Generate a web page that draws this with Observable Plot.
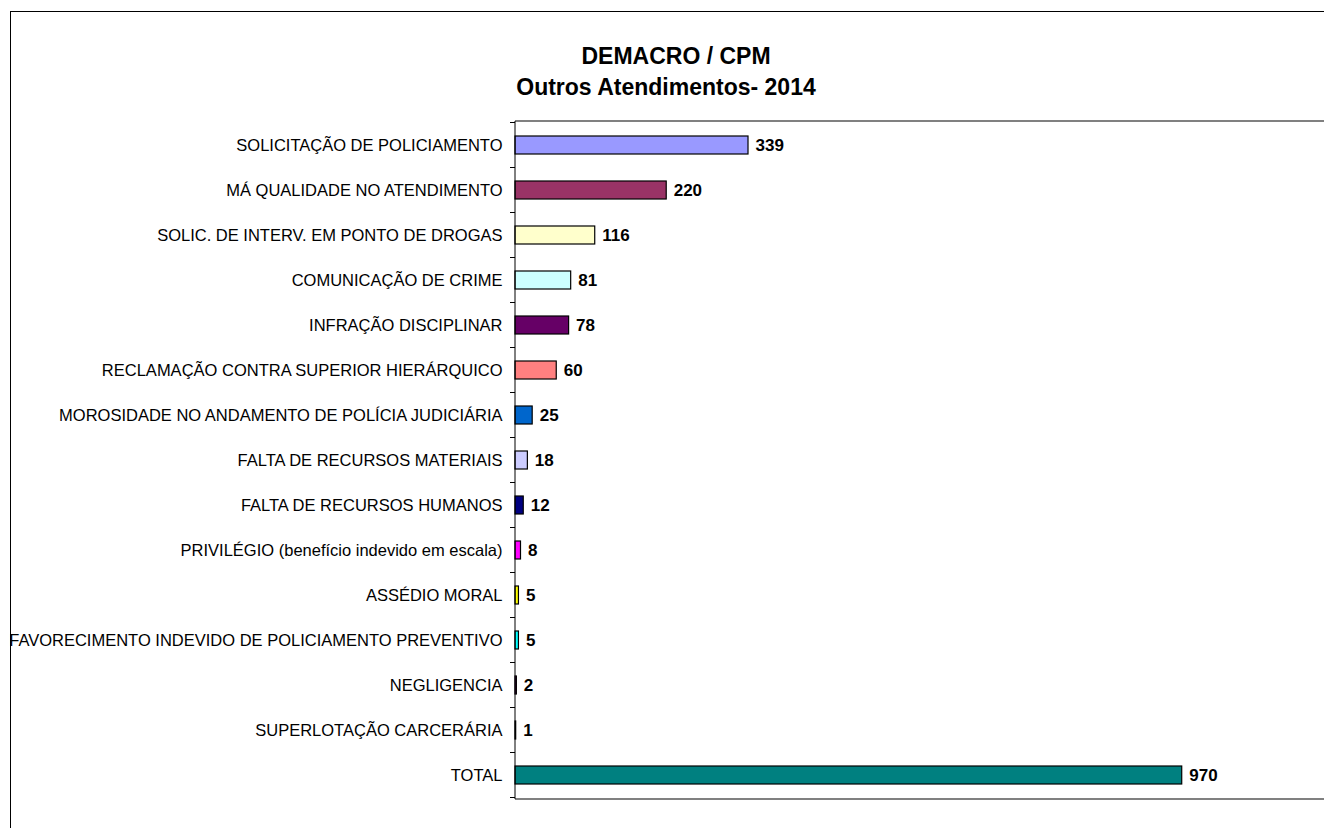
<!DOCTYPE html>
<html>
<head>
<meta charset="utf-8">
<script src="https://cdn.jsdelivr.net/npm/d3@7"></script>
<script src="https://cdn.jsdelivr.net/npm/@observablehq/plot@0.6"></script>
<style>
  html, body { margin: 0; padding: 0; background: #fff; overflow: hidden; }
  #wrap { position: relative; width: 1324px; height: 828px; font-family: "Liberation Sans", Arial, sans-serif; }
  #border { position: absolute; left: 10px; top: 11px; width: 1400px; height: 900px; border-left: 1.5px solid #000; border-top: 1.5px solid #000; box-sizing: border-box; }
  .title { position: absolute; font-weight: bold; font-size: 23px; white-space: nowrap; transform: translateX(-50%); line-height: 1; color: #000; }
  #header { position: relative; height: 110px; }
  #chart { position: absolute; left: 0; top: 110px; }
</style>
</head>
<body>
<div id="wrap">
  <div id="border"></div>
  <div id="header">
    <div class="title" id="t1" style="left:676px; top:45px;">DEMACRO / CPM</div>
    <div class="title" id="t2" style="left:666px; top:76px;">Outros Atendimentos- 2014</div>
  </div>
  <div id="chart"></div>
</div>
<script>
const categories = [
  "SOLICITAÇÃO DE POLICIAMENTO",
  "MÁ QUALIDADE NO ATENDIMENTO",
  "SOLIC. DE INTERV. EM PONTO DE DROGAS",
  "COMUNICAÇÃO DE CRIME",
  "INFRAÇÃO DISCIPLINAR",
  "RECLAMAÇÃO CONTRA SUPERIOR HIERÁRQUICO",
  "MOROSIDADE NO ANDAMENTO DE POLÍCIA JUDICIÁRIA",
  "FALTA DE RECURSOS MATERIAIS",
  "FALTA DE RECURSOS HUMANOS",
  "PRIVILÉGIO (benefício indevido em escala)",
  "ASSÉDIO MORAL",
  "FAVORECIMENTO INDEVIDO DE POLICIAMENTO PREVENTIVO",
  "NEGLIGENCIA",
  "SUPERLOTAÇÃO CARCERÁRIA",
  "TOTAL"
];
const values = [339, 220, 116, 81, 78, 60, 25, 18, 12, 8, 5, 5, 2, 1, 970];
const colors = ["#9999FF", "#993366", "#FFFFCC", "#CCFFFF", "#660066", "#FF8080", "#0066CC",
                "#CCCCFF", "#000080", "#FF00FF", "#FFFF00", "#00FFFF", "#800080", "#800000", "#008080"];
const xMax = 1177;

const data = categories.map((c, i) => ({category: c, value: values[i]}));

const W = 1324, H = 718;
const chart = Plot.plot({
  width: W,
  height: H,
  marginLeft: 515,
  marginRight: 0,
  marginTop: 11,
  marginBottom: 29,
  style: {fontFamily: '"Liberation Sans", Arial, sans-serif', fontSize: "16.5px", color: "#000", background: "transparent", overflow: "visible"},
  x: {domain: [0, xMax], axis: null},
  y: {domain: categories, paddingInner: 0.6, paddingOuter: 0.3, axis: null},
  color: {domain: categories, range: colors},
  marks: [
    Plot.barX(data, {y: "category", x: "value", fill: "category", stroke: "#000", strokeWidth: 1.2}),
    Plot.text(data, {y: "category", x: "value", text: d => String(d.value), textAnchor: "start", dx: 7, fontSize: 17, fontWeight: "bold", fill: "#000"}),
    Plot.axisY({tickSize: 0, tickPadding: 13, fontSize: 16.5, label: null, fill: "#000"})
  ]
});
document.getElementById("chart").appendChild(chart);

// plot-area decorations derived from the scales
const ys = chart.scale("y"), xs = chart.scale("x");
const svg = d3.select(chart);
const x0 = xs.apply(0);
const [yTop, yBot] = [Math.min(...ys.range), Math.max(...ys.range)];
const g = svg.append("g");
g.append("line").attr("x1", x0).attr("x2", W).attr("y1", yTop).attr("y2", yTop).attr("stroke", "#808080").attr("stroke-width", 2);
g.append("line").attr("x1", x0).attr("x2", W).attr("y1", yBot).attr("y2", yBot).attr("stroke", "#808080").attr("stroke-width", 2);
g.append("line").attr("x1", x0).attr("x2", x0).attr("y1", yTop).attr("y2", yBot).attr("stroke", "#000").attr("stroke-width", 1);
const half = (ys.step - ys.bandwidth) / 2;
const bounds = categories.map(c => ys.apply(c) - half);
bounds.push(ys.apply(categories[categories.length - 1]) + ys.bandwidth + half);
bounds.forEach(b => {
  g.append("line").attr("x1", x0 - 5).attr("x2", x0).attr("y1", b).attr("y2", b).attr("stroke", "#000").attr("stroke-width", 1);
});
</script>
</body>
</html>
